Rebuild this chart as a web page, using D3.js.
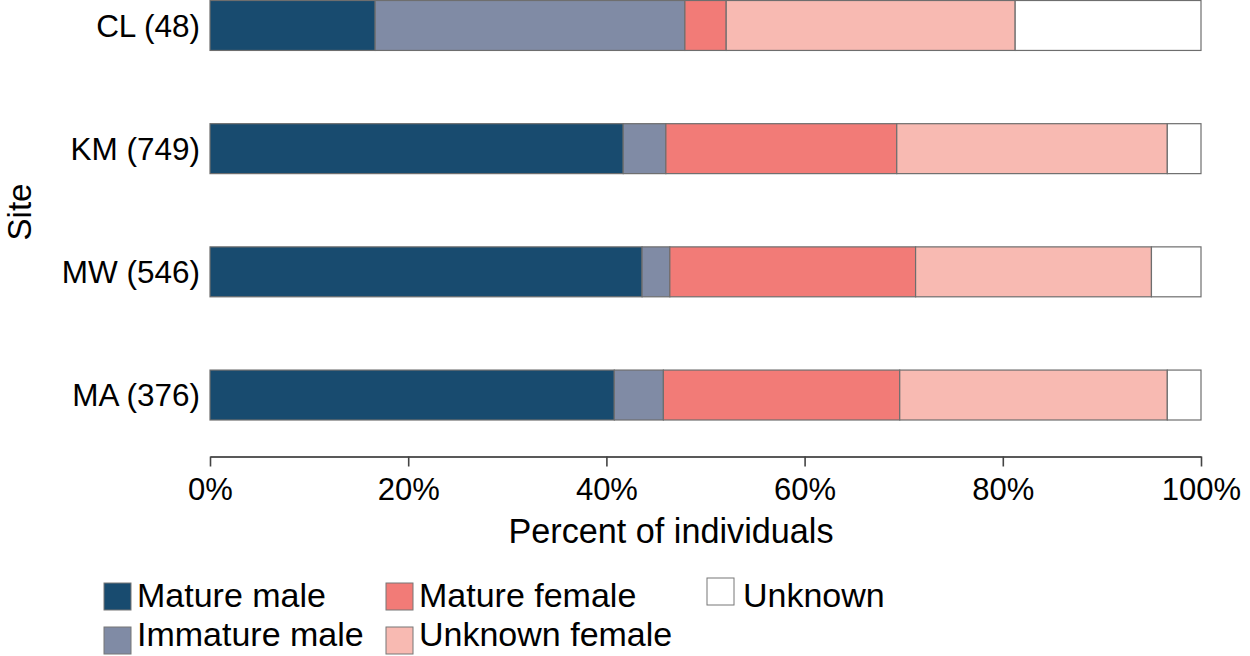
<!DOCTYPE html>
<html><head><meta charset="utf-8">
<script src="https://cdn.jsdelivr.net/npm/d3@7"></script>
<style>
html,body{margin:0;padding:0;background:#fff;}
text{font-family:"Liberation Sans",Arial,Helvetica,sans-serif;fill:#000;}
</style></head>
<body><svg id="chart" width="1250" height="656"></svg>
<script>
const sites = ["CL (48)", "KM (749)", "MW (546)", "MA (376)"];
const categories = ["Mature male", "Immature male", "Mature female", "Unknown female", "Unknown"];
const matureMale    = [16.67, 41.7, 43.6, 40.8];
const immatureMale  = [31.25, 4.3, 2.8, 4.95];
const matureFemale  = [4.17, 23.3, 24.8, 23.85];
const unknownFemale = [29.16, 27.3, 23.8, 27.0];
const unknown       = [18.75, 3.4, 5.0, 3.4];
const xTicks = [0, 20, 40, 60, 80, 100];
const colors = ["#184b6f", "#808ba5", "#f27b77", "#f8bab2", "#ffffff"];

const rows = sites.map((s, i) => ({
  site: s,
  "Mature male": matureMale[i],
  "Immature male": immatureMale[i],
  "Mature female": matureFemale[i],
  "Unknown female": unknownFemale[i],
  "Unknown": unknown[i]
}));

const svg = d3.select("#chart");
const x = d3.scaleLinear().domain([0, 100]).range([210, 1201]);
const y = d3.scaleBand().domain(sites).range([0.5, 420]).paddingInner(0.5946).paddingOuter(0);
const color = d3.scaleOrdinal().domain(categories).range(colors);

const stack = d3.stack().keys(categories)(rows);

svg.append("g").selectAll("g").data(stack).join("g")
  .attr("fill", d => color(d.key))
  .selectAll("rect").data(d => d).join("rect")
  .attr("x", d => x(d[0]))
  .attr("y", d => y(d.data.site))
  .attr("width", d => x(d[1]) - x(d[0]))
  .attr("height", y.bandwidth())
  .attr("stroke", "#6e6e6e")
  .attr("stroke-width", 1.2);

// x axis
const xAxis = svg.append("g").attr("transform", "translate(0,456.5)")
  .call(d3.axisBottom(x).tickValues(xTicks).tickFormat(d => d + "%").tickSize(10).tickSizeOuter(0));
xAxis.select(".domain").attr("stroke", "#222").attr("stroke-width", 1.6);
xAxis.selectAll(".tick line").attr("stroke", "#444").attr("stroke-width", 1.6);
xAxis.selectAll(".tick text").attr("font-size", 31).attr("dy", 0).attr("y", 43)
  .attr("font-family", "Liberation Sans, Arial, sans-serif").attr("fill", "#000");

// y axis labels (no line)
const yAxis = svg.append("g").attr("transform", "translate(210,0)")
  .call(d3.axisLeft(y).tickSize(0).tickPadding(10));
yAxis.select(".domain").remove();
yAxis.selectAll(".tick text").attr("font-size", 31.5).attr("dy", "0.36em")
  .attr("font-family", "Liberation Sans, Arial, sans-serif").attr("fill", "#000");

// axis titles
svg.append("text").attr("x", 671).attr("y", 543).attr("text-anchor", "middle")
  .attr("font-size", 34.2).text("Percent of individuals");
svg.append("text").attr("transform", "translate(31,212) rotate(-90)").attr("text-anchor", "middle")
  .attr("font-size", 33).text("Site");

// legend
const legendPos = [
  {k: "Mature male", sx: 104, sy: 583, tx: 137, ty: 607},
  {k: "Immature male", sx: 104, sy: 627, tx: 137, ty: 646},
  {k: "Mature female", sx: 386, sy: 583, tx: 419, ty: 607},
  {k: "Unknown female", sx: 386, sy: 627, tx: 419, ty: 646},
  {k: "Unknown", sx: 707, sy: 578, tx: 743, ty: 607}
];
const lg = svg.append("g");
lg.selectAll("rect").data(legendPos).join("rect")
  .attr("x", d => d.sx).attr("y", d => d.sy).attr("width", 27).attr("height", 27)
  .attr("fill", d => color(d.k)).attr("stroke", "#777").attr("stroke-width", 1);
lg.selectAll("text").data(legendPos).join("text")
  .attr("x", d => d.tx).attr("y", d => d.ty).attr("font-size", 34)
  .text(d => d.k);
</script>
</body></html>
